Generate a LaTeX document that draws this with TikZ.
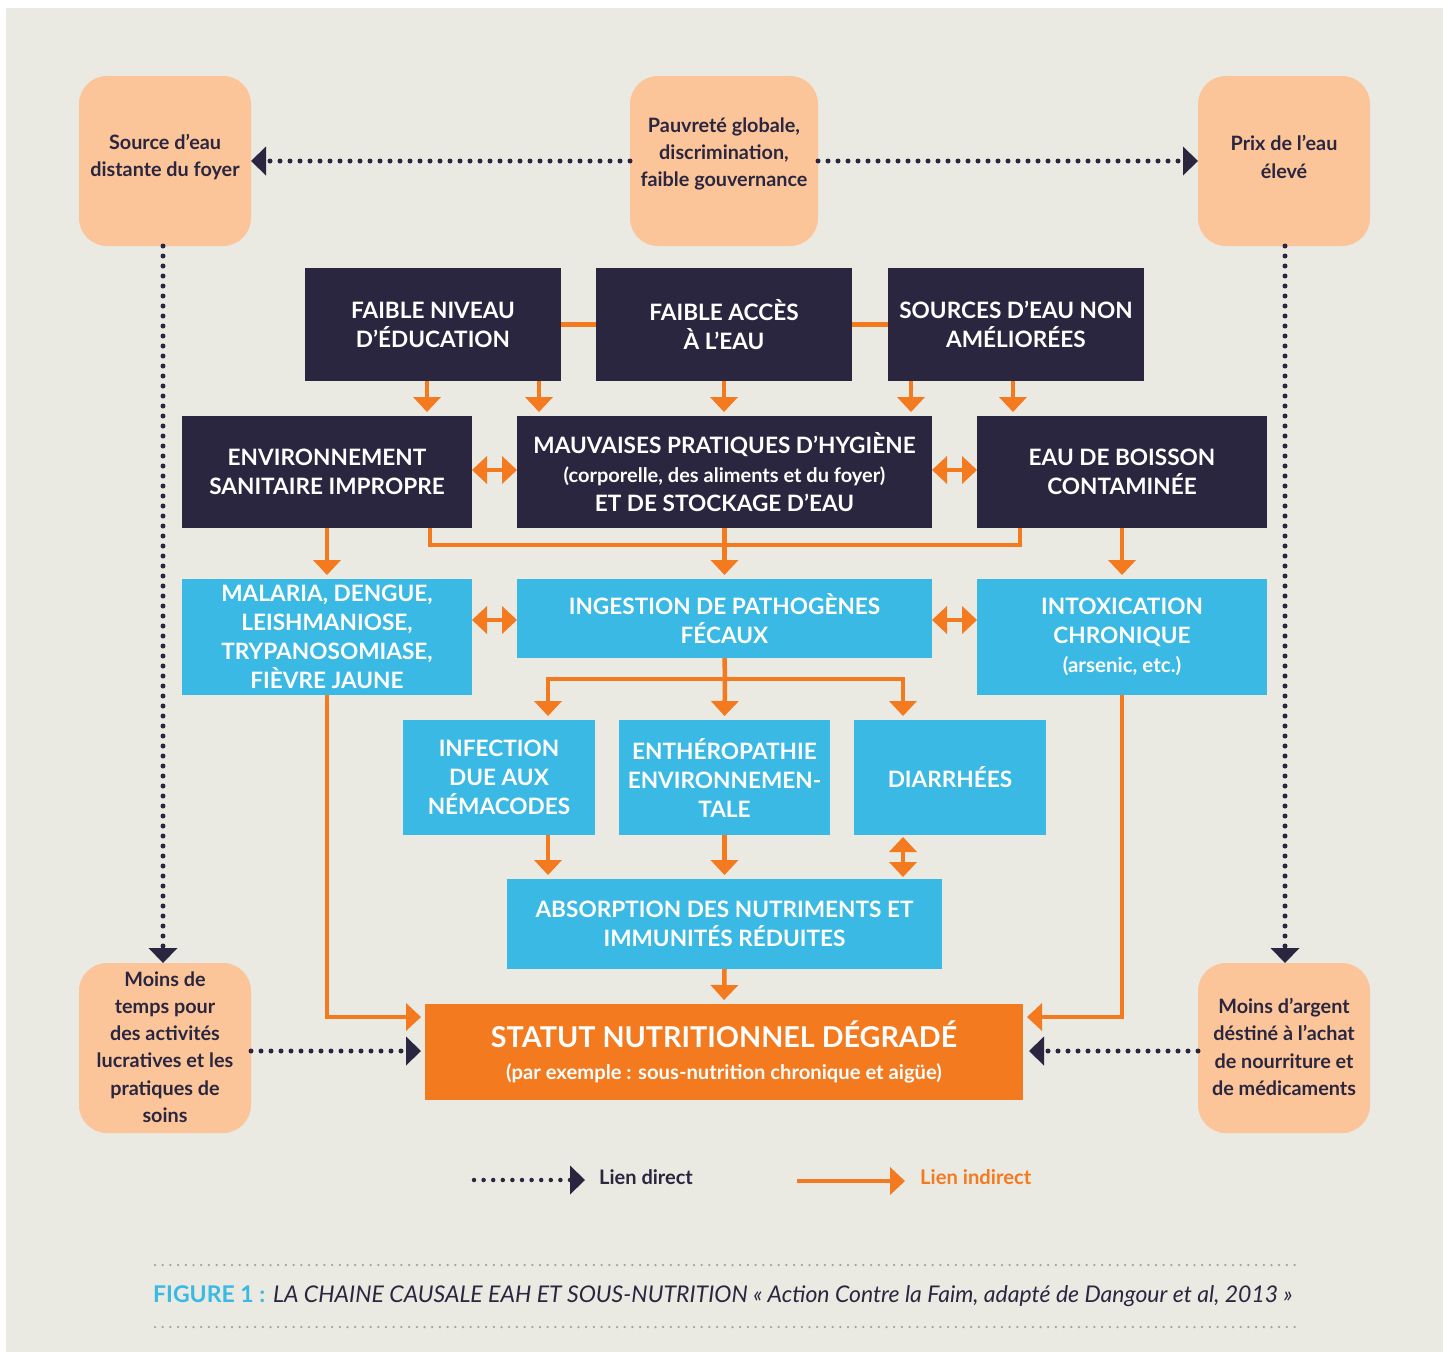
\documentclass[tikz,border=0pt]{standalone}
\usepackage{fontspec}
\setmainfont{Lato}
\usetikzlibrary{arrows.meta,calc}
\definecolor{navy}{HTML}{2B2640}
\definecolor{orangec}{HTML}{F47A20}
\definecolor{peach}{HTML}{FBC599}
\definecolor{cyanc}{HTML}{39B9E3}
\definecolor{bgc}{HTML}{EAE9E2}
\definecolor{sepc}{HTML}{A3A38E}
\begin{document}
\begin{tikzpicture}[x=1pt,y=-1pt,
  box/.style={inner sep=0pt, outer sep=0pt, align=center, anchor=north west},
  dk/.style={box, fill=navy, text=white, font=\bfseries\fontsize{22.6}{29}\selectfont},
  cy/.style={box, fill=cyanc, text=white, font=\bfseries\fontsize{22.6}{29}\selectfont},
  pc/.style={box, fill=peach, rounded corners=28pt},
  pctext/.style={inner sep=0pt, align=center, text=navy, font=\bfseries\fontsize{19.8}{27.2}\selectfont},
  oline/.style={draw=orangec, line width=4.5pt},
  oarr/.style={oline, -{Triangle[length=15pt,width=28pt,line width=0pt]}, shorten >=4pt},
  odbl/.style={oline, {Triangle[length=15pt,width=28pt,line width=0pt]}-{Triangle[length=15pt,width=28pt,line width=0pt]}},
  dline/.style={draw=navy, line width=5pt, line cap=round, dash pattern=on 0pt off 10pt},
  darr/.style={dline, -{Triangle[length=15pt,width=29pt,line width=0pt]}},
]
\useasboundingbox (0,0) rectangle (1449,1352);
\fill[white] (0,0) rectangle (1449,1352);
\fill[bgc] (6,8) rectangle (1443,1352);

% peach boxes
\node[pc, minimum width=172pt, minimum height=170pt] (src) at (79,76) {};
\node[pctext] (srct) at ([yshift=4pt]src.center) {Source d’eau\\distante du foyer};
\node[pc, minimum width=188pt, minimum height=170pt] (pov) at (630,76) {};
\node[pctext] (povt) at ([yshift=7pt]pov.center) {Pauvreté globale,\\discrimination,\\faible gouvernance};
\node[pc, minimum width=172pt, minimum height=170pt] (prix) at (1198,76) {};
\node[pctext] (prixt) at ([yshift=4pt]prix.center) {Prix de l’eau\\élevé};
\node[pc, minimum width=172pt, minimum height=170pt] (ml) at (79,963) {};
\node[pctext] (mlt) at ([yshift=1pt]ml.center) {Moins de\\temps pour\\des activités\\lucratives et les\\pratiques de\\soins};
\node[pc, minimum width=172pt, minimum height=170pt] (mg) at (1198,963) {};
\node[pctext] (mgt) at ([yshift=1pt]mg.center) {Moins d’argent\\déstiné à l’achat\\de nourriture et\\de médicaments};

% dark boxes
\node[dk, minimum width=256pt, minimum height=113pt] (niv) at (305,268) {FAIBLE NIVEAU\\D’ÉDUCATION};
\node[dk, minimum width=256pt, minimum height=113pt] (acc) at (596,268) {FAIBLE ACCÈS\\À L’EAU};
\node[dk, minimum width=256pt, minimum height=113pt] (sou) at (888,268) {SOURCES D’EAU NON\\AMÉLIORÉES};
\node[dk, minimum width=290pt, minimum height=112pt] (env) at (182,416) {ENVIRONNEMENT\\SANITAIRE IMPROPRE};
\node[dk, minimum width=415pt, minimum height=112pt] (mauv) at (517,416) {MAUVAISES PRATIQUES D’HYGIÈNE\\{\fontsize{20}{29}\selectfont (corporelle, des aliments et du foyer)}\\ET DE STOCKAGE D’EAU};
\node[dk, minimum width=290pt, minimum height=112pt] (eau) at (977,416) {EAU DE BOISSON\\CONTAMINÉE};

% cyan boxes
\node[cy, minimum width=290pt, minimum height=116pt] (mal) at (182,579) {MALARIA, DENGUE,\\LEISHMANIOSE,\\TRYPANOSOMIASE,\\FIÈVRE JAUNE};
\node[cy, minimum width=415pt, minimum height=79pt] (ing) at (517,579) {INGESTION DE PATHOGÈNES\\FÉCAUX};
\node[cy, minimum width=290pt, minimum height=116pt] (intox) at (977,579) {INTOXICATION\\CHRONIQUE\\{\fontsize{20.5}{29}\selectfont (arsenic, etc.)}};
\node[cy, minimum width=192pt, minimum height=115pt] (inf) at (403,720) {INFECTION\\DUE AUX\\NÉMACODES};
\node[cy, minimum width=211pt, minimum height=115pt] (enth) at (619,720) {ENTHÉROPATHIE\\ENVIRONNEMEN-\\TALE};
\node[cy, minimum width=192pt, minimum height=115pt] (diar) at (854,720) {DIARRHÉES};
\node[cy, minimum width=435pt, minimum height=90pt] (abs) at (507,879) {ABSORPTION DES NUTRIMENTS ET\\IMMUNITÉS RÉDUITES};

% orange result box
\node[box, fill=orangec, text=white, minimum width=598pt, minimum height=96pt,
      font=\bfseries\fontsize{20.2}{32}\selectfont] (stat) at (425,1004)
  {{\fontsize{28.7}{32}\selectfont STATUT NUTRITIONNEL DÉGRADÉ}\\(par exemple : sous-nutrition chronique et aigüe)};

% dotted links (direct)
\draw[darr] (pov.west) -- (src.east);
\draw[darr] (pov.east) -- (prix.west);
\draw[darr] (src.south -| 163,0) -- (ml.north -| 163,0);
\draw[darr] (prix.south -| 1285,0) -- (mg.north -| 1285,0);
\draw[darr, shorten >=4pt] (ml.east |- 0,1051) -- (stat.west |- 0,1051);
\draw[darr, shorten >=6pt] (mg.west |- 0,1051) -- (stat.east |- 0,1051);

% orange links (indirect)
\draw[oline] (niv) -- (acc);
\draw[oline] (acc) -- (sou);
\draw[oarr] (niv.south -| 427,0) -- (env.north -| 427,0);
\draw[oarr] (niv.south -| 539,0) -- (mauv.north -| 539,0);
\draw[oarr] (acc.south) -- (acc.south |- mauv.north);
\draw[oarr] (sou.south -| 911,0) -- (mauv.north -| 911,0);
\draw[oarr] (sou.south -| 1013,0) -- (eau.north -| 1013,0);
\draw[odbl] (env.east |- 0,470) -- (mauv.west |- 0,470);
\draw[odbl] (mauv.east |- 0,470) -- (eau.west |- 0,470);

\coordinate (bus) at (725,545);
\draw[oline] (env.south -| 430,0) |- (bus) -| (eau.south -| 1020,0);
\draw[oarr] (env.south) -- (mal.north);
\draw[oarr] (mauv.south) -- (ing.north);
\draw[oarr] (eau.south) -- (intox.north);
\draw[odbl] (mal.east |- 0,620) -- (ing.west |- 0,620);
\draw[odbl] (ing.east |- 0,620) -- (intox.west |- 0,620);

\coordinate (br) at (725,679);
\draw[oline] (ing.south) -- (br);
\draw[oarr] (br) -| (inf.north -| 548,0);
\draw[oarr] (br) -| (diar.north -| 903,0);
\draw[oarr] (br) -- (enth.north);

\draw[oarr] (inf.south -| 548,0) -- (abs.north -| 548,0);
\draw[oarr] (enth.south) -- (enth.south |- abs.north);
\draw[odbl, shorten <=2pt, shorten >=2pt] (diar.south -| 903,0) -- (abs.north -| 903,0);
\draw[oarr] (abs.south) -- (stat.north);

\draw[oarr] (mal.south) |- (stat.west |- 0,1017);
\draw[oarr] (intox.south) |- (stat.east |- 0,1017);

% legend
\coordinate (lds) at (474,1180);
\coordinate (lde) at (585,1180);
\draw[darr, line width=4.5pt, dash pattern=on 0pt off 9.6pt] (lds) -- (lde);
\node[anchor=west, inner sep=0pt, text=navy, font=\bfseries\fontsize{20}{22}\selectfont] (ld) at (599,1177) {Lien direct};
\coordinate (lis) at (797,1181);
\coordinate (lie) at (905,1181);
\draw[oarr, shorten >=0pt] (lis) -- (lie);
\node[anchor=west, inner sep=0pt, text=orangec, font=\bfseries\fontsize{20.2}{22}\selectfont] (li) at (920,1177) {Lien indirect};

% caption
\draw[sepc, line width=2.5pt, line cap=round, dash pattern=on 0pt off 7.7pt] (155,1265) -- (1297,1265);
\draw[sepc, line width=2.5pt, line cap=round, dash pattern=on 0pt off 7.7pt] (155,1327) -- (1297,1327);
\node[anchor=west, inner sep=0pt, text=navy, font=\fontsize{23}{26}\selectfont] (cap) at (153,1296)
  {{\bfseries\color{cyanc}FIGURE 1 :} \itshape LA CHAINE CAUSALE EAH ET SOUS-NUTRITION « Action Contre la Faim, adapté de Dangour et al, 2013 »};
\end{tikzpicture}
\end{document}
